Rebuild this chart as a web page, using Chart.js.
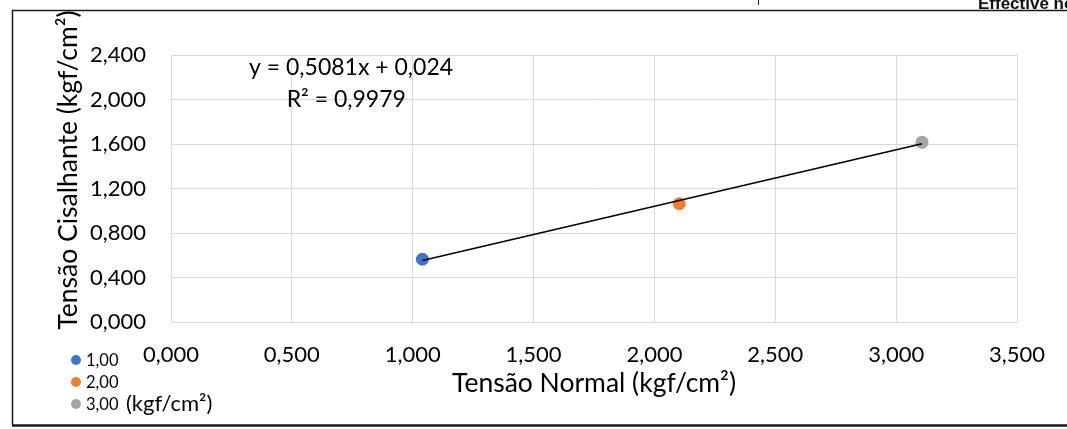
<!DOCTYPE html>
<html>
<head>
<meta charset="utf-8">
<script src="https://cdn.jsdelivr.net/npm/chart.js@4/dist/chart.umd.min.js"></script>
<style>
  html, body { margin: 0; padding: 0; background: #fff; }
  #chart { display: block; }
</style>
</head>
<body>
<canvas id="chart" width="1067" height="429"></canvas>
<script>
'use strict'

// amostras: tensao normal x tensao cisalhante (kgf/cm²)
const sampleLabels = ['1,00', '2,00', '3,00']
const normalStress = [1.040, 2.103, 3.107]
const shearStress = [0.564, 1.063, 1.615]
const sampleColors = ['#4472C4', '#ED7D31', '#A5A5A5']

// linha de tendencia linear (Excel)
const trendSlope = 0.5081
const trendIntercept = 0.024
const trendText = ['y = 0,5081x + 0,024', 'R² = 0,9979']

const xTicks = [0, 0.5, 1, 1.5, 2, 2.5, 3, 3.5]
const yTicks = [0, 0.4, 0.8, 1.2, 1.6, 2.0, 2.4]

const FONT = 'Lato, "Open Sans", sans-serif'
const fmt = v => Number(v).toFixed(3).replace('.', ',')

const xMin = Math.min(...normalStress)
const xMax = Math.max(...normalStress)

const datasets = sampleLabels.map((lbl, i) => ({
  label: lbl,
  data: [{ x: normalStress[i], y: shearStress[i] }],
  backgroundColor: sampleColors[i],
  borderColor: sampleColors[i],
  pointRadius: 6.5,
  pointBorderWidth: 0,
  order: 1
}))

datasets.push({
  label: 'trend',
  data: [
    { x: xMin, y: trendSlope * xMin + trendIntercept },
    { x: xMax, y: trendSlope * xMax + trendIntercept }
  ],
  showLine: true,
  borderColor: '#000',
  borderWidth: 1.5,
  pointRadius: 0,
  order: 0
})

// moldura, titulo do eixo y, legenda e equacao
const extras = {
  id: 'extras',
  afterDraw(chart) {
    const ctx = chart.ctx
    const { x, y } = chart.scales
    ctx.save()

    // titulo do eixo y (passa por cima da moldura, como no original)
    ctx.fillStyle = '#000'
    ctx.font = '26.5px ' + FONT
    ctx.translate(68, 170)
    ctx.rotate(-Math.PI / 2)
    ctx.textAlign = 'center'
    ctx.textBaseline = 'middle'
    ctx.fillText('Tensão Cisalhante (kgf/cm²)', 0, 0)
    ctx.setTransform(1, 0, 0, 1, 0, 0)

    // recorta o que passa da moldura
    ctx.fillStyle = '#fff'
    ctx.fillRect(0, 0, 758, 10)

    // moldura externa
    ctx.strokeStyle = '#1a1a1a'
    ctx.lineWidth = 1.5
    ctx.beginPath()
    ctx.moveTo(1067, 10.5)
    ctx.lineTo(12.5, 10.5)
    ctx.lineTo(12.5, 425)
    ctx.stroke()
    ctx.lineWidth = 2.5
    ctx.beginPath()
    ctx.moveTo(12, 425.5)
    ctx.lineTo(1067, 425.5)
    ctx.stroke()

    // pedaco do documento acima
    ctx.lineWidth = 1
    ctx.beginPath()
    ctx.moveTo(758.5, 0)
    ctx.lineTo(758.5, 5)
    ctx.stroke()
    ctx.fillStyle = '#111'
    ctx.font = 'bold 17px "Liberation Sans", sans-serif'
    ctx.textBaseline = 'alphabetic'
    ctx.textAlign = 'left'
    ctx.fillText('Effective no', 978, 9)

    // equacao da tendencia
    ctx.fillStyle = '#000'
    ctx.font = '23px ' + FONT
    ctx.textAlign = 'center'
    ctx.textBaseline = 'middle'
    ctx.fillText(trendText[0], x.getPixelForValue(0.745), y.getPixelForValue(2.283))
    ctx.fillText(trendText[1], x.getPixelForValue(0.725), y.getPixelForValue(1.995))

    // legenda
    ctx.textAlign = 'left'
    sampleLabels.forEach((lbl, i) => {
      const ly = 360 + i * 22
      ctx.fillStyle = sampleColors[i]
      ctx.beginPath()
      ctx.arc(76, ly, 5, 0, Math.PI * 2)
      ctx.fill()
      ctx.fillStyle = '#000'
      ctx.font = '16.5px ' + FONT
      ctx.fillText(lbl, 86, ly + 1)
      if (i === sampleLabels.length - 1) {
        ctx.font = '22px ' + FONT
        ctx.fillText('(kgf/cm²)', 126, ly)
      }
    })

    ctx.restore()
  }
}

new Chart(document.getElementById('chart'), {
  type: 'scatter',
  data: { datasets },
  plugins: [extras],
  options: {
    responsive: false,
    animation: false,
    devicePixelRatio: 1,
    layout: { padding: { top: 55, right: 50, left: 0, bottom: 0 } },
    plugins: {
      legend: { display: false },
      tooltip: { enabled: false }
    },
    scales: {
      x: {
        type: 'linear',
        min: 0,
        max: 3.5,
        afterFit: s => { s.height = 107 },
        afterBuildTicks: s => { s.ticks = xTicks.map(v => ({ value: v })) },
        grid: { color: '#d9d9d9', lineWidth: 1, drawTicks: false },
        border: { color: '#d9d9d9' },
        ticks: {
          padding: 20,
          color: '#000',
          font: { family: FONT, size: 22 },
          maxRotation: 0,
          callback: fmt
        },
        title: {
          display: true,
          text: 'Tensão Normal (kgf/cm²)',
          color: '#000',
          font: { family: FONT, size: 26.5 },
          padding: { top: 0, bottom: 30 }
        }
      },
      y: {
        type: 'linear',
        min: 0,
        max: 2.4,
        afterFit: s => { s.width = 171 },
        afterBuildTicks: s => { s.ticks = yTicks.map(v => ({ value: v })) },
        grid: { color: '#d9d9d9', lineWidth: 1, drawTicks: false },
        border: { color: '#d9d9d9' },
        ticks: {
          padding: 25,
          color: '#000',
          font: { family: FONT, size: 22 },
          callback: fmt
        }
      }
    }
  }
})
</script>
</body>
</html>
